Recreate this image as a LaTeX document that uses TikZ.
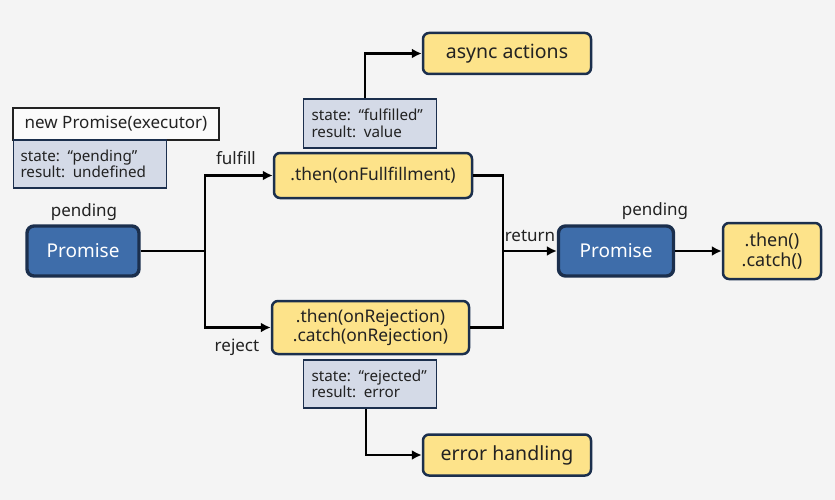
\documentclass[tikz,border=0pt]{standalone}
\usepackage{fontspec}
\setmainfont{Noto Sans}
\usepackage{xcolor}
\usepackage{tikz}
\usetikzlibrary{calc, positioning, arrows.meta}

\definecolor{bgray}{HTML}{F4F4F4}
\definecolor{navy}{HTML}{1B2F4D}
\definecolor{pblue}{HTML}{3E6DAA}
\definecolor{pyellow}{HTML}{FDE38A}
\definecolor{sgray}{HTML}{D4DAE7}
\definecolor{ink}{HTML}{222222}

\tikzset{
    promise/.style={draw=navy, line width=3.4pt, fill=pblue, rounded corners=7pt,
        text=white, font=\fontsize{19}{21}\selectfont, minimum width=#1, minimum height=50pt, inner sep=0pt},
    promise/.default=112pt,
    handler/.style={draw=navy, line width=2.5pt, fill=pyellow, rounded corners=6pt,
        text=ink, align=center, inner sep=0pt},
    statebox/.style={draw=navy, line width=1.8pt, fill=sgray, text=ink, align=left,
        font=\fontsize{15.2}{16.5}\selectfont, inner sep=0pt},
    lbl/.style={text=ink, font=\fontsize{17}{19}\selectfont, inner sep=0pt},
    link/.style={line width=2.8pt, -{Latex[length=10pt, width=10pt]}},
    wire/.style={line width=2.8pt}
}

\begin{document}
\begin{tikzpicture}[x=1pt, y=-1pt]
    % 1. Nền
    \fill[bgray] (0,0) rectangle (835,500);
    \useasboundingbox (0,0) rectangle (835,500);

    % 2. Khởi tạo Promise
    \node[draw=ink, line width=1.8pt, fill=bgray!40!white, text=ink, minimum width=206pt, minimum height=32pt,
        inner sep=0pt, font=\fontsize{17}{19}\selectfont] (newP) at (116,124) {new Promise(executor)};
    \node[statebox, minimum width=153pt, minimum height=48pt, text width=139pt] (st0) at (90,164)
        {state: “pending”\\result: undefined};
    \node[lbl] (pend1) at (84,212) {pending};
    \node[promise] (P1) at (83,251) {Promise};

    % 3. Các nhánh then / catch
    \node[handler, minimum width=198pt, minimum height=45pt, font=\fontsize{17.4}{19}\selectfont] (thenF) at (373,175.5)
        {.then(onFullfillment)};
    \node[handler, minimum width=197pt, minimum height=53pt, font=\fontsize{17.4}{19.5}\selectfont] (thenR) at (370.5,327.5)
        {.then(onRejection)\\.catch(onRejection)};
    \node[statebox, minimum width=133pt, minimum height=49pt, text width=117pt] (stF) at (370,123.5)
        {state: “fulfilled”\\result: value};
    \node[statebox, minimum width=133pt, minimum height=48pt, text width=117pt] (stR) at (370,384)
        {state: “rejected”\\result: error};
    \node[handler, minimum width=168pt, minimum height=41pt, font=\fontsize{19.5}{21}\selectfont] (async) at (507,53.5)
        {async actions};
    \node[handler, minimum width=168pt, minimum height=41pt, font=\fontsize{19.5}{21}\selectfont] (err) at (507,455)
        {error handling};

    % 4. Promise trả về
    \node[promise=115pt] (P2) at (616,251) {Promise};
    \node[lbl] (pend2) at (655,211) {pending};
    \node[handler, minimum width=98pt, minimum height=56pt, font=\fontsize{18}{19.5}\selectfont] (chain) at (772,251)
        {.then()\\.catch()};

    % 5. Đường nối
    \coordinate (split) at (205,251);
    \coordinate (merge) at (503,251);
    \draw[wire] (P1.east) -- (split);
    \draw[link] (split) |- (thenF.west);
    \draw[link] (split) |- (thenR.west);
    \draw[wire] (thenF.east) -| (merge);
    \draw[wire] (thenR.east) -| (merge);
    \draw[link] (merge) -- (P2.west);
    \draw[link] (P2.east) -- (chain.west);
    \draw[link] ([xshift=-5pt]stF.north) |- (async.west);
    \draw[link] ([xshift=-4pt]stR.south) |- (err.west);

    % 6. Nhãn
    \node[lbl] (lfulfill) at (236,158) {fulfill};
    \node[lbl] (lreject) at (237,347) {reject};
    \node[lbl] (lreturn) at (530,236) {return};
\end{tikzpicture}
\end{document}
